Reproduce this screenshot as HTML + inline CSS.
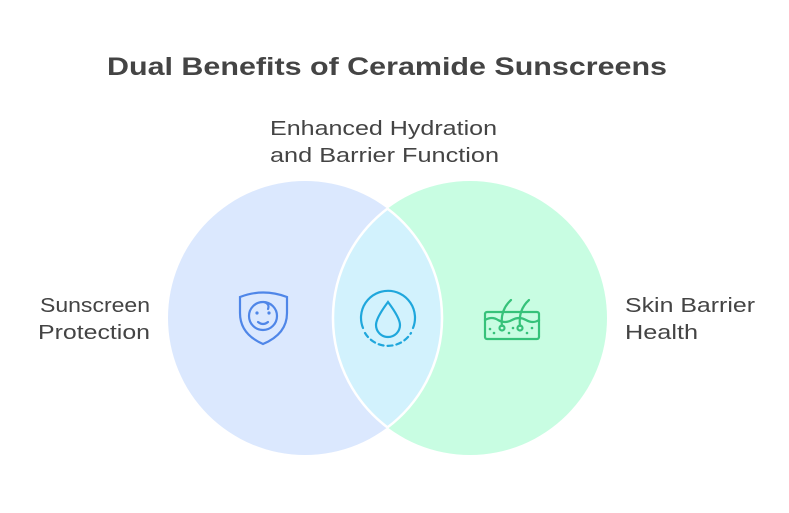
<!DOCTYPE html>
<html><head><meta charset="utf-8"><style>
body{margin:0;width:789px;height:513px;background:#fff;overflow:hidden;font-family:"Liberation Sans",sans-serif;}
svg{position:absolute;left:0;top:0}
</style></head><body>
<svg width="789" height="513" viewBox="0 0 789 513" xmlns="http://www.w3.org/2000/svg">
<defs><clipPath id="cl"><circle cx="305" cy="318" r="137"/></clipPath></defs>
<circle cx="305" cy="318" r="137" fill="#dbe8fe"/>
<circle cx="470" cy="318" r="137" fill="#c8fde2"/>
<circle cx="470" cy="318" r="137" fill="#d2f2fd" clip-path="url(#cl)"/>
<g fill="none" stroke="#fff" stroke-width="2.5">
<path d="M387.5 208.6 A137 137 0 0 0 387.5 427.4"/>
<path d="M387.5 208.6 A137 137 0 0 1 387.5 427.4"/>
</g>
<text x="107" y="75" textLength="560" lengthAdjust="spacingAndGlyphs" font-size="25" font-weight="bold" fill="#444">Dual Benefits of Ceramide Sunscreens</text>
<g font-size="20" fill="#444">
<text x="270" y="135" textLength="227" lengthAdjust="spacingAndGlyphs">Enhanced Hydration</text>
<text x="270" y="162" textLength="229" lengthAdjust="spacingAndGlyphs">and Barrier Function</text>
<text x="40" y="312" textLength="110" lengthAdjust="spacingAndGlyphs">Sunscreen</text>
<text x="38" y="339" textLength="112" lengthAdjust="spacingAndGlyphs">Protection</text>
<text x="625" y="312" textLength="130" lengthAdjust="spacingAndGlyphs">Skin Barrier</text>
<text x="625" y="339" textLength="73" lengthAdjust="spacingAndGlyphs">Health</text>
</g>
<g fill="none" stroke="#4f86e8" stroke-width="2.2" stroke-linecap="round">
<path d="M240 297 Q263 288 287 297 L287 313 Q287 334 263 344 Q240 334 240 313 Z"/>
<circle cx="263" cy="316" r="14"/>
<path d="M258 322 Q263 326 268 322"/>
<path d="M264 302 Q270 304 268 309"/>
</g>
<g fill="#4f86e8"><circle cx="257" cy="313" r="1.6"/><circle cx="269" cy="313" r="1.6"/></g>
<g fill="none" stroke="#1fa7dc" stroke-width="2.2" stroke-linecap="round">
<path d="M363 328 A27 27 0 1 1 413 328"/>
<path d="M365 333 A27 27 0 0 0 411 333" stroke-dasharray="5 4"/>
<path d="M388 302 Q376 318 376 325 A12 12 0 0 0 400 325 Q400 318 388 302 Z"/>
</g>
<g fill="none" stroke="#36c27a" stroke-width="2.2" stroke-linecap="round">
<rect x="485" y="312" width="54" height="27" rx="2"/>
<path d="M485 320 Q492 316 498 320 Q505 324 512 320 Q519 316 526 320 Q533 324 539 320"/>
<path d="M502 326 Q500 310 511 300"/>
<path d="M520 326 Q518 310 529 300"/>
<circle cx="502" cy="328" r="2.5"/><circle cx="520" cy="328" r="2.5"/>
</g>
<g fill="#36c27a"><circle cx="490" cy="329" r="1.3"/><circle cx="494" cy="333" r="1.3"/><circle cx="509" cy="333" r="1.3"/><circle cx="513" cy="328" r="1.3"/><circle cx="527" cy="333" r="1.3"/><circle cx="532" cy="328" r="1.3"/></g>
</svg>
</body></html>
